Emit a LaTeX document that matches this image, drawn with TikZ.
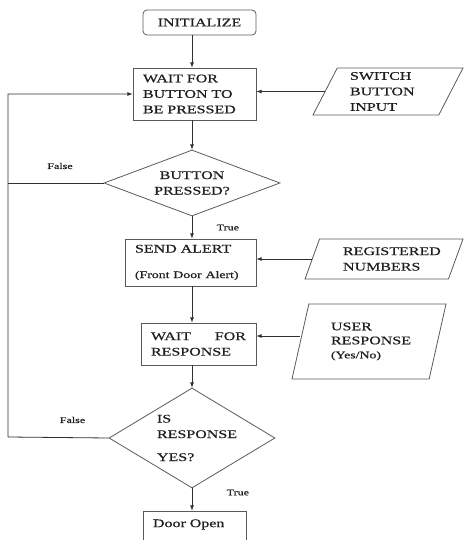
\documentclass[tikz,border=0pt]{standalone}
\usepackage{fontspec}
\setmainfont{Liberation Serif}[FakeStretch=1.38, FakeBold=0.6]
\usetikzlibrary{shapes.geometric}
\definecolor{linegray}{HTML}{5A5A5A}
\definecolor{arrgray}{HTML}{303030}
\definecolor{txtgray}{HTML}{1E1E1E}

\begin{document}
\begin{tikzpicture}[
        x=1pt, y=-1pt, % pixel grid, y down
        font=\fontsize{11.6}{15.5}\selectfont,
        text=txtgray,
        box/.style = {draw=linegray, line width=0.8pt, inner sep=0pt, align=left},
        startbox/.style = {box, rounded corners=4pt, align=center}, % start block
        decision/.style = {diamond, draw=linegray, line width=0.8pt, inner sep=0pt},
        io/.style = {trapezium, trapezium left angle=58, trapezium right angle=122,
                trapezium stretches body, draw=linegray, line width=0.8pt, inner sep=0pt, align=left},
        arr/.style = {draw=arrgray, line width=0.8pt, -latex},
        lbl/.style = {font=\fontsize{8.7}{10}\selectfont},
    ]
    \useasboundingbox (0,0) rectangle (464,540);
    \clip (0,0) rectangle (464,540);

    % main column
    \node[startbox, minimum width=113pt, minimum height=25pt] (init) at (199.5,22.5) {INITIALIZE};
    \node[box, minimum width=123pt, minimum height=52pt, text width=103pt] (wait) at (194.5,94) {WAIT FOR\\BUTTON TO\\BE PRESSED};
    \node[decision, shape aspect=2.67, minimum width=176pt, minimum height=66pt, align=center] (dec1) at (192,183) {BUTTON\\PRESSED?};
    \node[box, minimum width=131pt, minimum height=47pt, text width=111pt] (alert) at (190.5,262.5)
        {SEND ALERT\\[10pt]{\fontsize{10}{12}\selectfont (Front Door Alert)}};
    \node[box, minimum width=115pt, minimum height=42pt, text width=95pt] (resp) at (198.5,344) {WAIT\hfill FOR\\RESPONSE};
    \node[decision, shape aspect=1.66, inner sep=-10pt, minimum width=166pt, minimum height=100pt, text width=70pt, align=left] (dec2) at (192,438)
        {IS\\RESPONSE\\[7.5pt]YES?};
    \node[box, minimum width=103pt, minimum height=40pt, text width=83pt] (door) at (194.5,531) {Door Open\\\mbox{}};

    % inputs
    \node[io, minimum width=150pt, minimum height=47pt, text width=76pt] (switch) at (388,91.5) {SWITCH\\BUTTON\\INPUT};
    \node[io, minimum width=158pt, minimum height=40pt, text width=82pt] (reg) at (384,259) {REGISTERED\\NUMBERS};
    \node[io, trapezium left angle=66, trapezium right angle=114, minimum width=154pt, minimum height=75pt,
        text width=76pt, font=\fontsize{11.6}{14}\selectfont] (user) at (369,341.5)
        {USER\\RESPONSE\\{\fontsize{10}{12}\selectfont (Yes/No)}};

    % flow
    \draw[arr] (init.south -| dec1.north) -- (wait.north -| dec1.north);
    \draw[arr] (wait.south -| dec1.north) -- (dec1.north);
    \draw[arr] (dec1.south) -- (alert.north -| dec1.south) node[lbl, midway, anchor=west, xshift=21pt] {True};
    \draw[arr] (alert.south -| dec1.south) -- (resp.north -| dec1.south);
    \draw[arr] (resp.south -| dec2.north) -- (dec2.north);
    \draw[arr] (dec2.south) -- (door.north -| dec2.south) node[lbl, midway, anchor=west, xshift=31pt, yshift=7pt] {True};

    % false loop
    \coordinate (loop) at (8,437);
    \draw[arr] (dec2.west) -- (loop) |- (wait.west);
    \draw[draw=arrgray, line width=0.8pt] (dec1.west) -- (dec1.west -| loop);
    \node[lbl] (false1) at (60,166) {False};
    \node[lbl] (false2) at (72.5,420) {False};

    % inputs into boxes
    \draw[arr] (switch.west) -- (switch.west -| wait.east);
    \draw[arr] (reg.west) -- (reg.west -| alert.east);
    \draw[arr] ([yshift=5.5pt]user.west) -- ([yshift=5.5pt]user.west -| resp.east);

\end{tikzpicture}
\end{document}
